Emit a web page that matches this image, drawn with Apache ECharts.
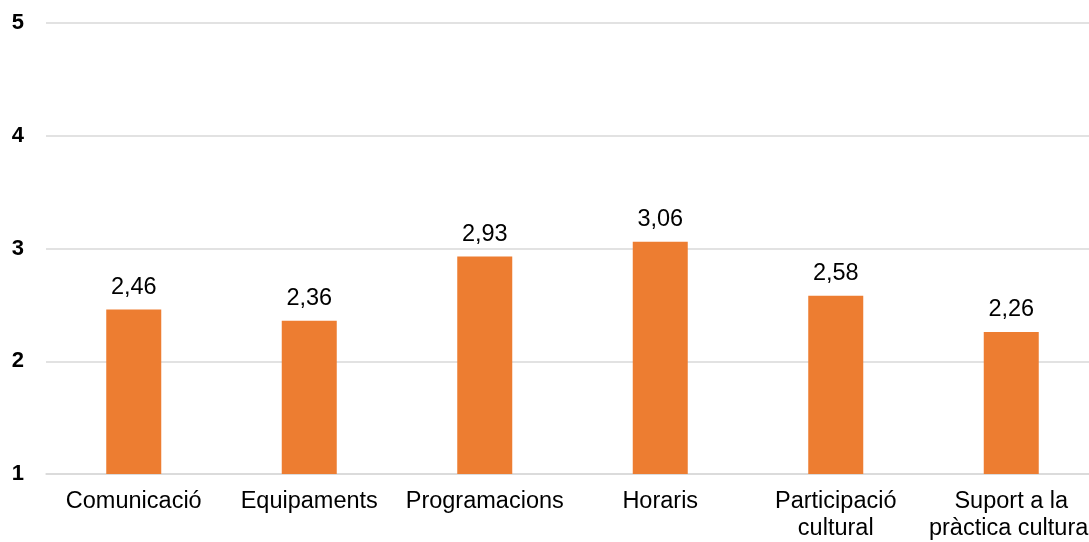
<!DOCTYPE html>
<html>
<head>
<meta charset="utf-8">
<script src="https://cdn.jsdelivr.net/npm/echarts@6/dist/echarts.min.js"></script>
<style>
html,body{margin:0;padding:0;background:#fff;overflow:hidden;}
#chart{width:1099px;height:542px;}
</style>
</head>
<body>
<div id="chart"></div>
<script>
const categories = ['Comunicació', 'Equipaments', 'Programacions', 'Horaris', 'Participació\ncultural', 'Suport a la\npràctica cultural'];
const values = [2.46, 2.36, 2.93, 3.06, 2.58, 2.26];
const yTicks = [1, 2, 3, 4, 5];

const chart = echarts.init(document.getElementById('chart'), null, {renderer: 'canvas'});
chart.setOption({
  animation: false,
  grid: {left: 46, right: 0, top: 23, bottom: 67, containLabel: false},
  xAxis: {
    type: 'category',
    data: categories,
    axisLine: {show: true, lineStyle: {color: '#d9d9d9', width: 1.5}},
    axisTick: {show: false},
    axisLabel: {
      interval: 0,
      color: '#000',
      fontFamily: 'Liberation Sans, Arial, sans-serif',
      fontSize: 23.5,
      lineHeight: 27,
      margin: 14
    }
  },
  yAxis: {
    type: 'value',
    min: 1,
    max: 5,
    interval: 1,
    axisLine: {show: false},
    axisTick: {show: false},
    splitLine: {lineStyle: {color: '#d9d9d9', width: 1.5}},
    axisLabel: {
      color: '#000',
      fontWeight: 'bold',
      fontFamily: 'Liberation Sans, Arial, sans-serif',
      fontSize: 22,
      margin: 22,
      formatter: v => yTicks.includes(v) ? String(v) : ''
    }
  },
  series: [{
    type: 'bar',
    data: values,
    barWidth: 55,
    itemStyle: {color: '#ED7D31'},
    label: {
      show: true,
      position: 'top',
      distance: 10,
      color: '#000',
      fontFamily: 'Liberation Sans, Arial, sans-serif',
      fontSize: 23.5,
      formatter: p => p.value.toFixed(2).replace('.', ',')
    }
  }]
});
</script>
</body>
</html>
